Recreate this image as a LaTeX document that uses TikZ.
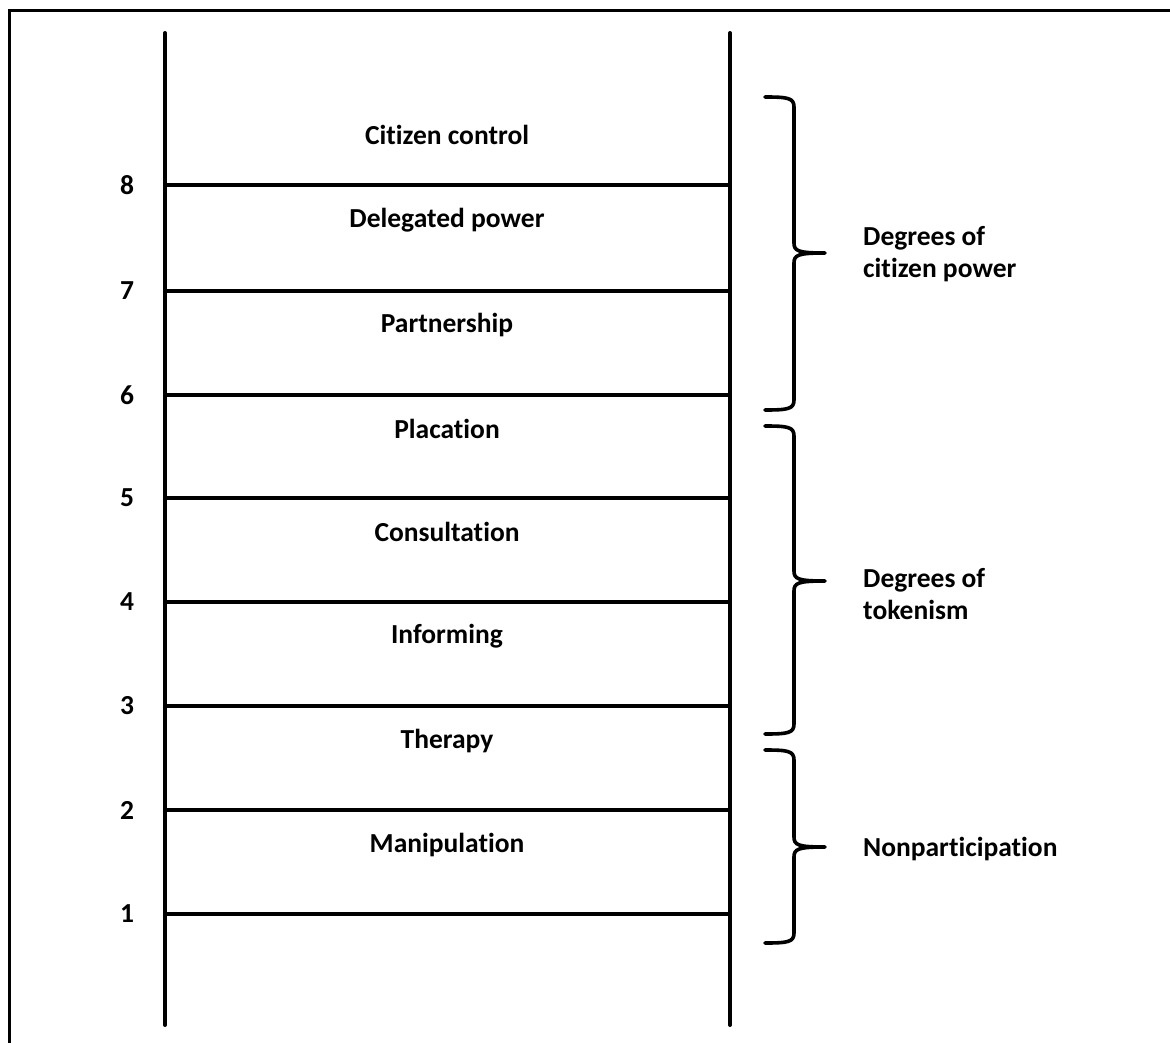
\documentclass[tikz,border=0pt]{standalone}
\usepackage{fontspec}
\setmainfont{Carlito}[Ligatures={NoCommon}]
\begin{document}
\begin{tikzpicture}[x=1pt,y=-1pt,
  rail/.style={line width=4pt,line cap=round},
  rung/.style={line width=3.6pt},
  bracket/.style={line width=3.6pt,line cap=round,line join=round},
  lbl/.style={font=\fontsize{27.5}{32}\selectfont\bfseries,inner sep=0pt},
  num/.style={font=\fontsize{27.5}{32}\selectfont\bfseries,inner sep=0pt},
  side/.style={font=\fontsize{27.5}{32}\selectfont\bfseries,inner sep=0pt,align=left,anchor=west}]
\useasboundingbox (0,0) rectangle (1170,1043);
% frame (top and left edges)
\draw[line width=3pt] (9,1043) -- (9,11) -- (1170,11);

% rails
\coordinate (ltop) at (165,33);
\coordinate (lbot) at (165,1025);
\coordinate (rtop) at (730,33);
\coordinate (rbot) at (730,1025);
\draw[rail] (ltop) -- (lbot);
\draw[rail] (rtop) -- (rbot);

% rungs, numbered 1 (bottom) to 8 (top)
\foreach \i/\y in {1/914,2/810,3/706,4/602,5/498,6/395,7/291,8/185}{
  \coordinate (l\i) at (165,\y);
  \coordinate (r\i) at (730,\y);
  \draw[rung] (l\i) -- (r\i);
  \node[num] (n\i) at (127,\y) {\i};
}

% rung labels
\node[lbl] (t8) at (447,135) {Citizen control};
\node[lbl] (t7) at (447,220) {Delegated power};
\node[lbl] (t6) at (447,325) {Partnership};
\node[lbl] (t5) at (447,429) {Placation};
\node[lbl] (t4) at (447,532) {Consultation};
\node[lbl] (t3) at (447,636) {Informing};
\node[lbl] (t2) at (447,741) {Therapy};
\node[lbl] (t1) at (447,845) {Manipulation};

% braces
\newcommand{\ladderbrace}[3]{% top, middle, bottom
  \draw[bracket] (765,#1) .. controls (788,#1) and (794,#1+1) .. (794,#1+10)
    -- (794,#2-10) .. controls (794,#2-2) and (798,#2) .. (825,#2)
    .. controls (798,#2) and (794,#2+2) .. (794,#2+10)
    -- (794,#3-10) .. controls (794,#3-1) and (788,#3) .. (765,#3);
}
\ladderbrace{97}{253}{410}
\ladderbrace{426}{581}{734}
\ladderbrace{750}{847}{943}

% group labels
\node[side] (g1) at (863,254) {Degrees of\\citizen power};
\node[side] (g2) at (863,594) {Degrees of\\tokenism};
\node[side] (g3) at (863,849) {Nonparticipation};
\end{tikzpicture}
\end{document}
